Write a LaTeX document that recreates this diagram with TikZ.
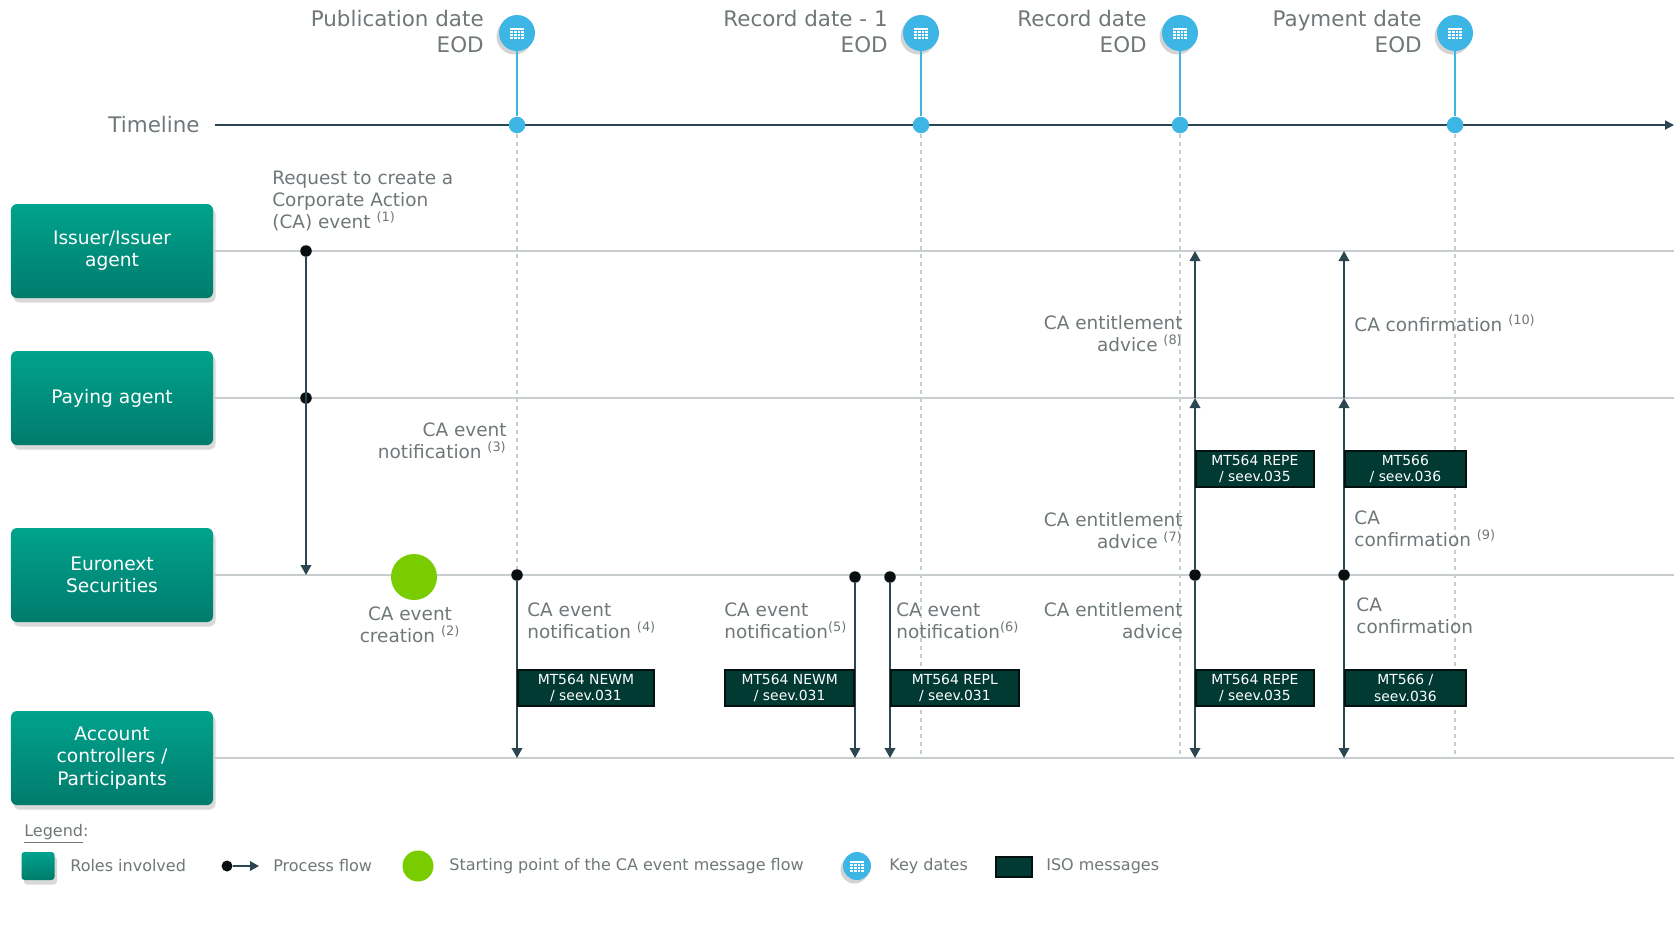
\documentclass[tikz,border=0pt]{standalone}
\usepackage{fontspec}
\setmainfont{DejaVu Sans}
\usetikzlibrary{arrows.meta,shadows,positioning,calc}
\definecolor{roletop}{HTML}{00A38D}
\definecolor{rolebot}{HTML}{007B6C}
\definecolor{isodark}{HTML}{013A33}
\definecolor{flowdark}{HTML}{2B4650}
\definecolor{keyblue}{HTML}{3DB6E6}
\definecolor{labelgray}{HTML}{6F7779}
\definecolor{lanegray}{HTML}{C8CDCF}
\definecolor{startgreen}{HTML}{79CC00}
\tikzset{
  role/.style={rounded corners=1.2mm, top color=roletop, bottom color=rolebot, text=white,
    minimum width=40.4mm, minimum height=18.8mm, align=center, inner sep=0pt,
    font=\fontsize{10.6}{12.6}\selectfont,
    drop shadow={opacity=0.3, shadow xshift=0.5mm, shadow yshift=-0.9mm}},
  iso/.style={fill=isodark, draw=black!70!isodark, line width=0.35mm, text=white, align=center,
    inner sep=0pt, minimum height=7.1mm, font=\fontsize{7.9}{9.6}\selectfont},
  lbl/.style={text=labelgray, inner sep=0pt, font=\fontsize{10.5}{12.6}\selectfont},
  datelbl/.style={text=labelgray, inner sep=0pt, align=right, font=\fontsize{12.2}{14.8}\selectfont},
  legendlbl/.style={text=labelgray, inner sep=0pt, anchor=west, font=\fontsize{9.1}{11}\selectfont},
  lane/.style={draw=lanegray, line width=0.35mm},
  keyline/.style={draw=lanegray, line width=0.25mm, dash pattern=on 0.8mm off 0.8mm},
  flow/.style={draw=flowdark, line width=0.4mm, -{Triangle[length=2mm,width=2.1mm]}},
  flowdot/.style={circle, fill=black!80!flowdark, inner sep=0pt, minimum size=2.3mm},
  timedot/.style={circle, fill=keyblue, inner sep=0pt, minimum size=3.3mm},
  keydate/.style={circle, fill=keyblue, inner sep=0pt, minimum size=7.2mm,
    drop shadow={opacity=0.35, shadow xshift=-0.5mm, shadow yshift=-0.7mm},
    path picture={
      \fill[white] ($(path picture bounding box.center)+(-1.4mm,-1.2mm)$) rectangle ++(2.8mm,2.3mm);
      \foreach \gx in {-0.7,0,0.7}
        \draw[keyblue, line width=0.12mm] ($(path picture bounding box.center)+(\gx mm,-1.2mm)$) -- ++(0mm,1.9mm);
      \foreach \gy in {-0.6,0,0.6}
        \draw[keyblue, line width=0.12mm] ($(path picture bounding box.center)+(-1.4mm,\gy mm)$) -- ++(2.8mm,0mm);
    }},
  startpt/.style={circle, fill=startgreen, inner sep=0pt, minimum size=9.2mm}
}

\begin{document}
\begin{tikzpicture}[x=0.2mm, y=-0.2mm]
	%%%%% START %%%%%
	\useasboundingbox (0,0) rectangle (1674,942);
	
	% roles and lanes
	\node[role] (issuer) at (112,251) {Issuer/Issuer\\agent};
	\node[role] (paying) at (112,398) {Paying agent};
	\node[role] (euronext) at (112,575) {Euronext\\Securities};
	\node[role] (account) at (112,758) {Account\\controllers /\\Participants};
	\foreach \r in {issuer,paying,euronext,account}
		\draw[lane] (\r.east) -- (\r.east -| 1674,0);
	
	% timeline
	\node[datelbl, anchor=east] (timelbl) at (200,125) {Timeline};
	\coordinate (timeend) at (1674,125);
	\draw[draw=flowdark, line width=0.35mm, -{Triangle[length=1.8mm,width=1.8mm]}] (215,125) -- (timeend);
	
	% key dates
	\foreach \n/\x/\t in {pub/517/{Publication date\\EOD}, recm/921/{Record date - 1\\EOD},
	                     rec/1180/{Record date\\EOD}, pay/1455/{Payment date\\EOD}} {
		\coordinate (\n low) at (\x,758);
		\node[timedot] (\n dot) at (\x,125) {};
		\draw[keyline] (\n dot) -- (\n low);
		\node[keydate] (\n key) at (\x,33) {};
		\draw[keyblue, line width=0.3mm] (\n key) -- (\n dot);
		\node[datelbl, anchor=east] (\n lbl) at (\x-33,32) {\t};
	}
	
	% request (1)
	\node[flowdot] (req) at (306,251) {};
	\node[flowdot] (reqpay) at (306,398) {};
	\coordinate (reqend) at (306,575);
	\draw[flow] (req) -- (reqend);
	\node[lbl, anchor=west, align=left] (reqlbl) at (272,201) {Request to create a\\Corporate Action\\(CA) event \textsuperscript{(1)}};
	
	% creation (2) and notification (3)
	\node[startpt] (start) at (414,577) {};
	\node[lbl, align=center] (startlbl) at (410,625) {CA event\\creation \textsuperscript{(2)}};
	\node[lbl, anchor=east, align=right] (notif3) at (507,441) {CA event\\notification \textsuperscript{(3)}};
	
	% notifications to participants (4) (5) (6)
	\node[flowdot] (n4) at (517,575) {};
	\coordinate (n4end) at (517,758);
	\draw[flow] (n4) -- (n4end);
	\node[lbl, anchor=west, align=left] (notif4) at (527,621) {CA event\\notification \textsuperscript{(4)}};
	\node[iso, anchor=west, minimum width=27.2mm] (iso4) at (517,688) {MT564 NEWM\\/ seev.031};
	
	\node[flowdot] (n5) at (855,577) {};
	\coordinate (n5end) at (855,758);
	\draw[flow] (n5) -- (n5end);
	\node[lbl, anchor=west, align=left] (notif5) at (724,621) {CA event\\notification\textsuperscript{(5)}};
	\node[iso, anchor=east, minimum width=25.8mm] (iso5) at (855,688) {MT564 NEWM\\/ seev.031};
	
	\node[flowdot] (n6) at (890,577) {};
	\coordinate (n6end) at (890,758);
	\draw[flow] (n6) -- (n6end);
	\node[lbl, anchor=west, align=left] (notif6) at (896,621) {CA event\\notification\textsuperscript{(6)}};
	\node[iso, anchor=west, minimum width=25.6mm] (iso6) at (890,688) {MT564 REPL\\/ seev.031};
	
	% entitlement advice (7) (8)
	\node[flowdot] (ent) at (1195,575) {};
	\coordinate (entpay) at (1195,398);
	\coordinate (entiss) at (1195,251);
	\coordinate (entend) at (1195,758);
	\draw[flow] (ent) -- (entpay);
	\draw[flow] (entpay) -- (entiss);
	\draw[flow] (ent) -- (entend);
	\node[lbl, anchor=east, align=right] (ent8) at (1183,334) {CA entitlement\\advice \textsuperscript{(8)}};
	\node[lbl, anchor=east, align=right] (ent7) at (1183,531) {CA entitlement\\advice \textsuperscript{(7)}};
	\node[lbl, anchor=east, align=right] (entp) at (1183,621) {CA entitlement\\advice};
	\node[iso, anchor=west, minimum width=23.6mm] (iso7) at (1195,469) {MT564 REPE\\/ seev.035};
	\node[iso, anchor=west, minimum width=23.6mm] (isoent) at (1195,688) {MT564 REPE\\/ seev.035};
	
	% confirmation (9) (10)
	\node[flowdot] (conf) at (1344,575) {};
	\coordinate (confpay) at (1344,398);
	\coordinate (confiss) at (1344,251);
	\coordinate (confend) at (1344,758);
	\draw[flow] (conf) -- (confpay);
	\draw[flow] (confpay) -- (confiss);
	\draw[flow] (conf) -- (confend);
	\node[lbl, anchor=west, align=left] (conf10) at (1354,323) {CA confirmation \textsuperscript{(10)}};
	\node[lbl, anchor=west, align=left] (conf9) at (1354,529) {CA\\confirmation \textsuperscript{(9)}};
	\node[lbl, anchor=west, align=left] (confp) at (1356,616) {CA\\confirmation};
	\node[iso, anchor=west, minimum width=24.2mm] (iso9) at (1344,469) {MT566\\/ seev.036};
	\node[iso, anchor=west, minimum width=24.2mm] (isoconf) at (1344,688) {MT566 /\\seev.036};
	
	% legend
	\node[legendlbl] (legend) at (24,834) {\underline{Legend}:};
	\node[role, minimum width=6.6mm, minimum height=5.6mm, rounded corners=0.6mm] (legrole) at (38,866) {};
	\node[legendlbl] (legrolelbl) at (70,866) {Roles involved};
	\node[flowdot, minimum size=2.2mm] (legdot) at (227,866) {};
	\coordinate (legarr) at (259,866);
	\draw[flow, line width=0.35mm, -{Triangle[length=1.8mm,width=1.9mm]}] (legdot) -- (legarr);
	\node[legendlbl] (legflowlbl) at (273,866) {Process flow};
	\node[startpt, minimum size=6.2mm] (legstart) at (418,866) {};
	\node[legendlbl] (legstartlbl) at (449,866) {Starting point of the CA event message flow};
	\node[keydate, minimum size=5.6mm] (legkey) at (857,866) {};
	\node[legendlbl] (legkeylbl) at (889,866) {Key dates};
	\node[iso, minimum width=7.2mm, minimum height=4mm] (legiso) at (1014,867) {};
	\node[legendlbl] (legisolbl) at (1046,866) {ISO messages};
	%%%%% END %%%%%
\end{tikzpicture}
\end{document}
